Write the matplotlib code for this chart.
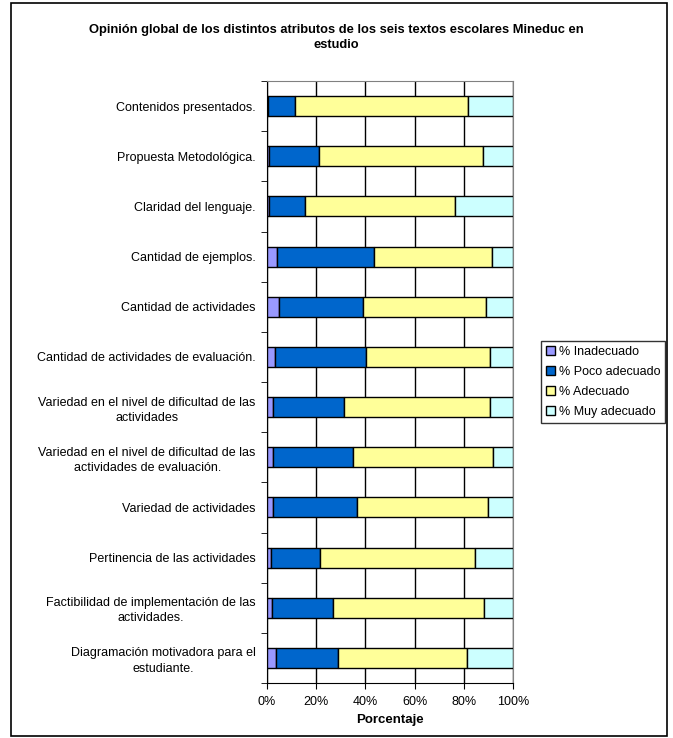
import numpy as np
import matplotlib
matplotlib.use("Agg")
import matplotlib.pyplot as plt
from matplotlib.patches import Rectangle
from matplotlib.ticker import PercentFormatter, FixedLocator, NullFormatter

plt.rcParams['font.family'] = ['Liberation Sans', 'DejaVu Sans']

categorias = [
    "Contenidos presentados.",
    "Propuesta Metodológica.",
    "Claridad del lenguaje.",
    "Cantidad de ejemplos.",
    "Cantidad de actividades",
    "Cantidad de actividades de evaluación.",
    "Variedad en el nivel de dificultad de las\nactividades",
    "Variedad en el nivel de dificultad de las\nactividades de evaluación.",
    "Variedad de actividades",
    "Pertinencia de las actividades",
    "Factibilidad de implementación de las\nactividades.",
    "Diagramación motivadora para el\nestudiante.",
]

inadecuado = [0.5, 0.8, 0.8, 4.2, 4.8, 3.1, 2.3, 2.3, 2.4, 1.6, 2.0, 3.7]
poco_adecuado = [10.8, 20.3, 14.7, 39.1, 34.3, 37.2, 28.9, 32.6, 34.2, 19.9, 24.9, 25.3]
adecuado = [70.5, 66.8, 61.1, 48.3, 50.0, 50.5, 59.6, 56.9, 53.4, 62.9, 61.4, 52.4]
muy_adecuado = [18.2, 12.1, 23.4, 8.4, 10.9, 9.2, 9.2, 8.2, 10.0, 15.6, 11.7, 18.6]

series = [
    ("% Inadecuado", inadecuado, "#9999FF"),
    ("% Poco adecuado", poco_adecuado, "#0066CC"),
    ("% Adecuado", adecuado, "#FFFF99"),
    ("% Muy adecuado", muy_adecuado, "#CCFFFF"),
]

fs = 9.0

fig = plt.figure(figsize=(6.73, 7.38), dpi=100)
ax = fig.add_axes([0.3967, 0.0745, 0.3656, 0.8157])

# normalizar a 100%
tot = np.sum([s[1] for s in series], axis=0)
y = np.arange(len(categorias))
izq = np.zeros(len(categorias))
for nombre, vals, color in series:
    v = np.array(vals) / tot * 100
    ax.barh(y, v, left=izq, height=0.4, color=color, edgecolor="black",
            linewidth=1, label=nombre, zorder=3)
    izq += v

ax.set_xlim(0, 100)
ax.set_ylim(len(categorias) - 0.5, -0.5)
ax.xaxis.set_major_locator(FixedLocator([0, 20, 40, 60, 80, 100]))
ax.xaxis.set_major_formatter(PercentFormatter(decimals=0))
ax.grid(axis="x", color="black", linewidth=1, zorder=0)

ax.set_yticks(y)
ax.set_yticklabels(categorias, fontsize=fs, multialignment="center", linespacing=1.35)
ax.tick_params(axis="y", length=0, pad=8)
ax.yaxis.set_minor_locator(FixedLocator(np.arange(-0.5, len(categorias), 1)))
ax.yaxis.set_minor_formatter(NullFormatter())
ax.tick_params(axis="y", which="minor", length=4, direction="out")
ax.tick_params(axis="x", length=4, direction="out", labelsize=fs, pad=5)

for lado in ["top", "right"]:
    ax.spines[lado].set_color("#808080")
for lado in ["left", "bottom"]:
    ax.spines[lado].set_color("black")

ax.set_xlabel("Porcentaje", fontsize=9.5, fontweight="bold", labelpad=5)

fig.suptitle("Opinión global de los distintos atributos de los seis textos escolares Mineduc en\nestudio",
             fontsize=9.3, fontweight="bold", y=0.968, linespacing=1.35)

leg = ax.legend(loc="center left", bbox_to_anchor=(1.115, 0.5), fontsize=fs,
                frameon=True, fancybox=False, edgecolor="black", handlelength=0.7,
                handleheight=0.7, handletextpad=0.3, borderpad=0.4,
                labelspacing=0.65, borderaxespad=0)
leg.get_frame().set_linewidth(1)

fig.patches.append(Rectangle((0.016, 0.003), 0.975, 0.993, transform=fig.transFigure,
                             fill=False, edgecolor="black", linewidth=1.2))

fig.savefig("out.png", dpi=100)
